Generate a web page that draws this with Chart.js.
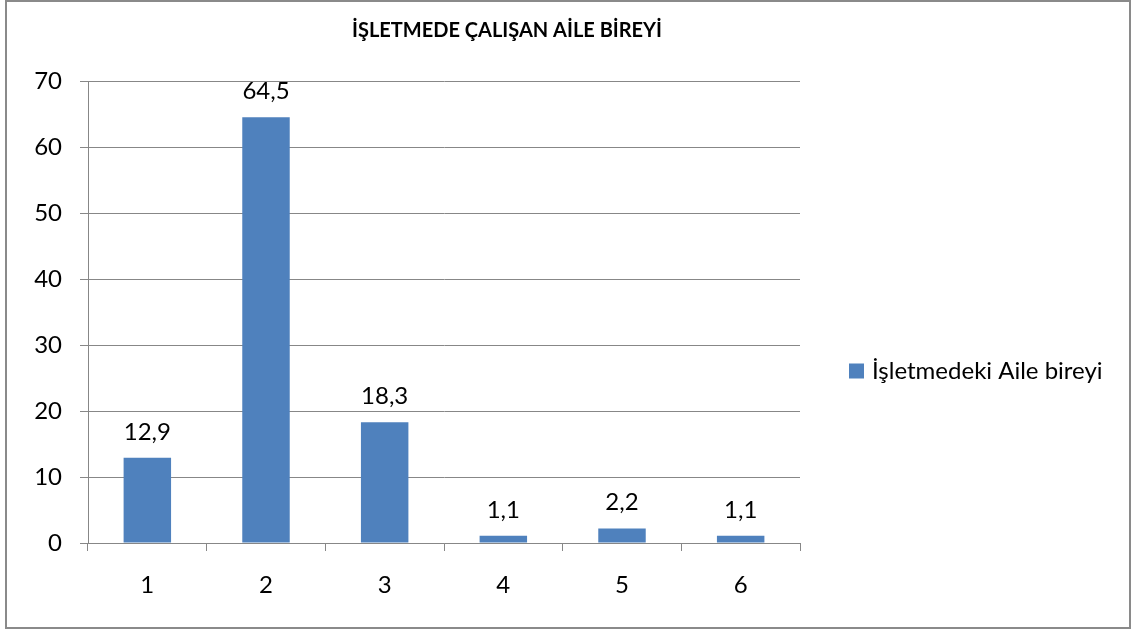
<!DOCTYPE html>
<html><head><meta charset="utf-8">
<script src="https://cdn.jsdelivr.net/npm/chart.js@4"></script>
<style>html,body{margin:0;padding:0;background:#fff}#wrap{width:1136px;height:632px;position:relative}</style>
</head><body><div id="wrap"><canvas id="c" width="1136" height="632"></canvas></div>
<script>
const chartTitle = 'İŞLETMEDE ÇALIŞAN AİLE BİREYİ';
const categories = ['1', '2', '3', '4', '5', '6'];
const seriesName = 'İşletmedeki Aile bireyi';
const seriesValues = [12.9, 64.5, 18.3, 1.1, 2.2, 1.1];
const yTickValues = [0, 10, 20, 30, 40, 50, 60, 70];

const FONT = 'Lato, "Open Sans", sans-serif';
const BAR_COLOR = '#4F81BD';
const GRID = '#878787';

const decor = {
  id: 'decor',
  beforeDraw(chart) {
    const ctx = chart.ctx;
    ctx.save();
    ctx.fillStyle = '#fff';
    ctx.fillRect(0, 0, chart.width, chart.height);
    ctx.restore();
  },
  afterDraw(chart) {
    const ctx = chart.ctx;
    const area = chart.chartArea;
    ctx.save();
    // outer border
    ctx.strokeStyle = '#8a8a8a';
    ctx.lineWidth = 2;
    ctx.strokeRect(6, 1, 1124, 627);
    // title
    ctx.fillStyle = '#000';
    ctx.font = 'bold 20px ' + FONT;
    ctx.textAlign = 'center';
    ctx.textBaseline = 'middle';
    ctx.fillText(chartTitle, 507, 31);
    // data labels
    ctx.font = '24px ' + FONT;
    ctx.textBaseline = 'alphabetic';
    const meta = chart.getDatasetMeta(0);
    meta.data.forEach((bar, i) => {
      const txt = String(seriesValues[i]).replace('.', ',');
      ctx.fillText(txt, bar.x, bar.y - 18);
    });
    // legend
    const lx = area.right + 49, ly = 371;
    ctx.fillStyle = BAR_COLOR;
    ctx.fillRect(lx, ly - 7.5, 15, 15);
    ctx.fillStyle = '#000';
    ctx.textAlign = 'left';
    ctx.textBaseline = 'middle';
    ctx.font = '24px ' + FONT;
    ctx.fillText(seriesName, lx + 23, ly);
    ctx.restore();
  }
};

new Chart(document.getElementById('c'), {
  type: 'bar',
  data: {
    labels: categories,
    datasets: [{
      label: seriesName,
      data: seriesValues,
      backgroundColor: BAR_COLOR,
      borderWidth: 0,
      barPercentage: 0.4,
      categoryPercentage: 1.0
    }]
  },
  options: {
    responsive: false,
    devicePixelRatio: 1,
    animation: false,
    layout: { padding: { top: 81, right: 336, left: 0, bottom: 0 } },
    plugins: { legend: { display: false }, title: { display: false }, tooltip: { enabled: false } },
    scales: {
      x: {
        offset: true,
        grid: { offset: true, drawOnChartArea: false, drawTicks: true, tickLength: 8, color: GRID, lineWidth: 1 },
        border: { display: true, color: GRID, width: 1 },
        ticks: { color: '#000', font: { family: FONT, size: 24 }, padding: 20, maxRotation: 0 },
        afterFit(s) { s.height = 89; }
      },
      y: {
        min: 0, max: 70,
        afterBuildTicks(s) { s.ticks = yTickValues.map(v => ({ value: v })); },
        grid: { drawOnChartArea: true, drawTicks: true, tickLength: 8, color: GRID, lineWidth: 1 },
        border: { display: true, color: GRID, width: 1 },
        ticks: { color: '#000', font: { family: FONT, size: 24 }, padding: 18 },
        afterFit(s) { s.width = 88; }
      }
    }
  },
  plugins: [decor]
});
</script>
</body></html>
